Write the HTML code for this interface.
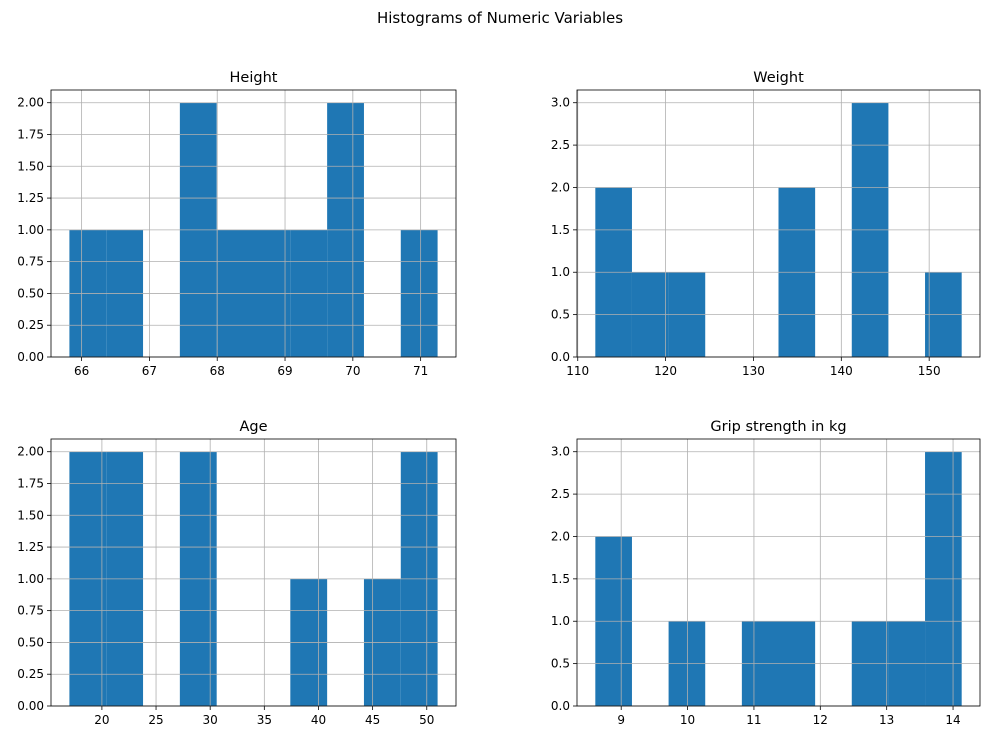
<!DOCTYPE html>
<html><head><meta charset="utf-8"><style>
body{margin:0;background:#fff;font-family:"Liberation Sans","DejaVu Sans",sans-serif;}
svg text{font-family:"DejaVu Sans","Liberation Sans",sans-serif;}
</style></head><body>
<svg id="fig" width="990" height="739" xmlns="http://www.w3.org/2000/svg">
<rect width="990" height="739" fill="#fff"/>
<text x="500" y="23" font-size="15" text-anchor="middle">Histograms of Numeric Variables</text>
</svg>
<script>
const titles = ["Height","Weight","Age","Grip strength in kg"];
const heightCounts = [1,1,0,2,1,1,1,2,0,1];
const weightCounts = [2,1,1,0,0,2,0,3,0,1];
const ageCounts = [2,2,0,2,0,0,1,0,1,2];
const gripCounts = [2,0,1,0,1,1,0,1,1,3];
const dataMins = [65.82,112,17,8.61];
const dataMaxs = [71.25,153.7,51,14.13];
const xTicks = [[66,67,68,69,70,71],[110,120,130,140,150],[20,25,30,35,40,45,50],[9,10,11,12,13,14]];
const yTicks = [[0,0.25,0.5,0.75,1,1.25,1.5,1.75,2],[0,0.5,1,1.5,2,2.5,3],[0,0.25,0.5,0.75,1,1.25,1.5,1.75,2],[0,0.5,1,1.5,2,2.5,3]];
const yDecimals = [2,1,2,1];
const allCounts = [heightCounts,weightCounts,ageCounts,gripCounts];
const boxes = [[51,90,456,357],[577,90,980,357],[51,439,456,706],[577,439,980,706]];
const svg = document.getElementById('fig');
const NS = 'http://www.w3.org/2000/svg';
function mk(tag, attrs, parent){const e=document.createElementNS(NS,tag);for(const k in attrs)e.setAttribute(k,attrs[k]);parent.appendChild(e);return e;}
allCounts.forEach((counts,i)=>{
  const [L,T,R,B]=boxes[i];
  const slug=titles[i].toLowerCase().replace(/ /g,'-');
  const g=mk('g',{},svg);
  
  
  const mn=dataMins[i], mx=dataMaxs[i], rng=mx-mn;
  const x0=mn-0.05*rng, x1=mx+0.05*rng;
  const ymax=Math.max(...counts)*1.05;
  const xs=v=>L+(v-x0)/(x1-x0)*(R-L);
  const ys=v=>B-v/ymax*(B-T);
  const bw=rng/counts.length;
  counts.forEach((c,j)=>{
    if(c<=0)return;
    const a=xs(mn+j*bw), b=xs(mn+(j+1)*bw);
    const r=mk('rect',{x:a,y:ys(c),width:b-a,height:B-ys(c),fill:'#1f77b4'},g);
    
    
  });
  xTicks[i].forEach(t=>{
    const x=xs(t);
    mk('line',{x1:x,x2:x,y1:T,y2:B,stroke:'#b0b0b0','stroke-width':0.8},g);
    mk('line',{x1:x,x2:x,y1:B,y2:B+4,stroke:'#000','stroke-width':0.8},g);
    const tx=mk('text',{x:x,y:B+18,'font-size':12,'text-anchor':'middle'},g);
    tx.textContent=t;
    
    
  });
  yTicks[i].forEach(t=>{
    const y=ys(t);
    mk('line',{x1:L,x2:R,y1:y,y2:y,stroke:'#b0b0b0','stroke-width':0.8},g);
    mk('line',{x1:L-4,x2:L,y1:y,y2:y,stroke:'#000','stroke-width':0.8},g);
    const tx=mk('text',{x:L-7,y:y+4,'font-size':12,'text-anchor':'end'},g);
    tx.textContent=t.toFixed(yDecimals[i]);
    
    
  });
  mk('rect',{x:L,y:T,width:R-L,height:B-T,fill:'none',stroke:'#000','stroke-width':0.8},g);
  const tt=mk('text',{x:(L+R)/2,y:T-8,'font-size':14.5,'text-anchor':'middle'},g);
  tt.textContent=titles[i];
  
  
});
</script>
</body></html>
